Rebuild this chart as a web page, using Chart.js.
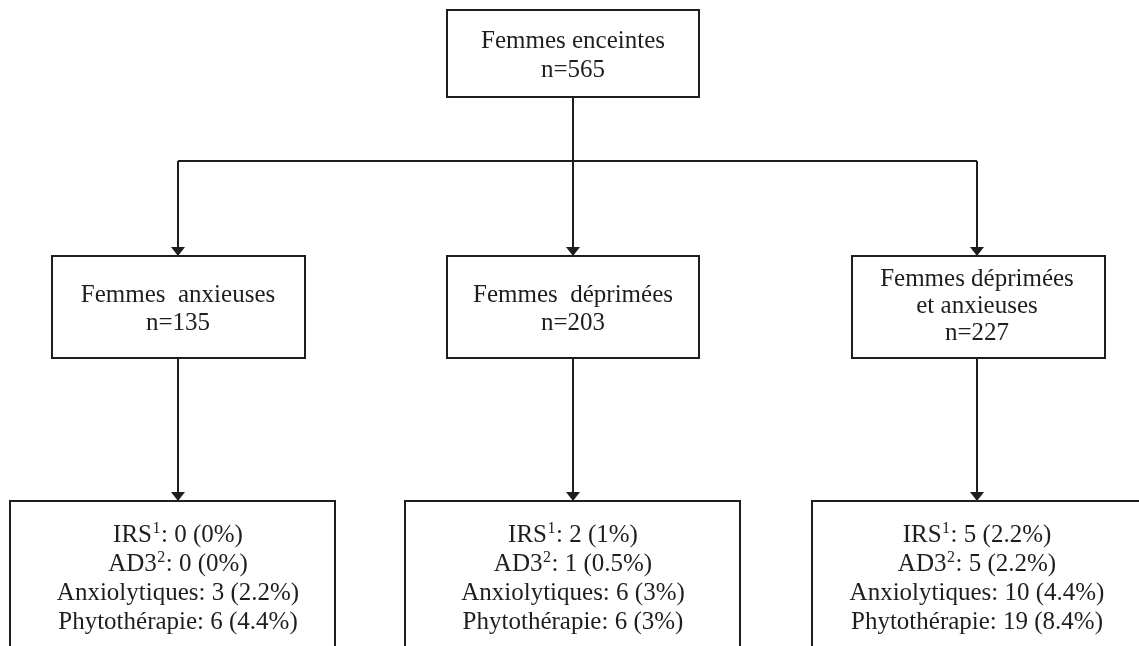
<!DOCTYPE html>
<html>
<head>
<meta charset="utf-8">
<script src="https://cdn.jsdelivr.net/npm/chart.js@4.4.0/dist/chart.umd.min.js"></script>
<style>
  html, body { margin: 0; padding: 0; background: #fff; }
  canvas { display: block; }
</style>
</head>
<body>
<canvas id="flow" width="1139" height="646"></canvas>
<script>
// data
const totalLabel = ['Femmes enceintes'];
const totalN = 565;
const groupLabels = [['Femmes  anxieuses'], ['Femmes  déprimées'], ['Femmes déprimées', 'et anxieuses']];
const groupN = [135, 203, 227];
const treatments = ['IRS', 'AD3', 'Anxiolytiques', 'Phytothérapie'];
const treatmentNotes = ['1', '2', '', ''];
const counts = [[0, 0, 3, 6], [2, 1, 6, 6], [5, 5, 10, 19]];
const percents = [[0, 0, 2.2, 4.4], [1, 0.5, 3, 3], [2.2, 2.2, 4.4, 8.4]];

// layout, in units of the hidden 1139 x 646 axes
const columns = [178, 573, 977];
const topBox = [447, 699, 10, 97];
const midBoxes = [[52, 305], [447, 699], [852, 1105]];
const midY = [256, 358];
const botBoxes = [[10, 335], [405, 740], [812, 1150]];
const botY = [501, 660];
const branchY = 161;

const ink = '#1e1e1e';
const font = '25px "Liberation Serif", "Times New Roman", serif';
const supFont = '16px "Liberation Serif", "Times New Roman", serif';

const flowPlugin = {
  id: 'flow',
  afterDraw(chart) {
    const ctx = chart.ctx;
    const X = v => chart.scales.x.getPixelForValue(v);
    const Y = v => chart.scales.y.getPixelForValue(v);
    ctx.save();
    ctx.strokeStyle = ink;
    ctx.fillStyle = ink;
    ctx.lineWidth = 2;

    function box(x0, x1, y0, y1) {
      ctx.strokeRect(X(x0), Y(y0), X(x1) - X(x0), Y(y1) - Y(y0));
    }
    function line(x0, y0, x1, y1) {
      ctx.beginPath();
      ctx.moveTo(X(x0), Y(y0));
      ctx.lineTo(X(x1), Y(y1));
      ctx.stroke();
    }
    function arrow(x, y0, y1) {
      line(x, y0, x, y1 - 7);
      ctx.beginPath();
      ctx.moveTo(X(x) - 7, Y(y1 - 9));
      ctx.lineTo(X(x) + 7, Y(y1 - 9));
      ctx.lineTo(X(x), Y(y1));
      ctx.closePath();
      ctx.fill();
    }
    function text(lines, x, firstBase, step) {
      ctx.font = font;
      ctx.textAlign = 'center';
      ctx.textBaseline = 'alphabetic';
      lines.forEach((t, i) => ctx.fillText(t, X(x), Y(firstBase + i * step)));
    }
    // one line made of [text, superscript, rest], centred on x
    function richLine(parts, x, base) {
      ctx.textAlign = 'left';
      ctx.textBaseline = 'alphabetic';
      ctx.font = font;
      const w0 = ctx.measureText(parts[0]).width;
      const w2 = ctx.measureText(parts[2]).width;
      ctx.font = supFont;
      const w1 = parts[1] ? ctx.measureText(parts[1]).width + 1 : 0;
      let px = X(x) - (w0 + w1 + w2) / 2;
      const py = Y(base);
      ctx.font = font;
      ctx.fillText(parts[0], px, py);
      px += w0;
      if (parts[1]) {
        ctx.font = supFont;
        ctx.fillText(parts[1], px + 0.5, py - 9);
        px += w1;
        ctx.font = font;
      }
      ctx.fillText(parts[2], px, py);
    }

    // top node
    box(topBox[0], topBox[1], topBox[2], topBox[3]);
    text(totalLabel.concat(['n=' + totalN]), columns[1], 48, 29);

    // branches
    line(columns[1], topBox[3], columns[1], branchY);
    line(columns[0], branchY, columns[2], branchY);

    columns.forEach((cx, i) => {
      arrow(cx, branchY, midY[0]);
      box(midBoxes[i][0], midBoxes[i][1], midY[0], midY[1]);
      const lines = groupLabels[i].concat(['n=' + groupN[i]]);
      if (lines.length === 3) text(lines, cx, 286, 27);
      else text(lines, cx, 302, 28);

      arrow(cx, midY[1], botY[0]);
      box(botBoxes[i][0], botBoxes[i][1], botY[0], botY[1]);
      treatments.forEach((t, j) => {
        richLine([t, treatmentNotes[j], ': ' + counts[i][j] + ' (' + percents[i][j] + '%)'], cx, 542 + j * 29);
      });
    });
    ctx.restore();
  }
};

new Chart(document.getElementById('flow').getContext('2d'), {
  type: 'scatter',
  data: { datasets: [{ data: [], pointRadius: 0 }] },
  options: {
    responsive: false,
    animation: false,
    layout: { padding: 0 },
    plugins: { legend: { display: false }, tooltip: { enabled: false } },
    scales: {
      x: { type: 'linear', min: 0, max: 1139, display: false },
      y: { type: 'linear', min: 0, max: 646, reverse: true, display: false }
    }
  },
  plugins: [flowPlugin]
});
</script>
</body>
</html>
